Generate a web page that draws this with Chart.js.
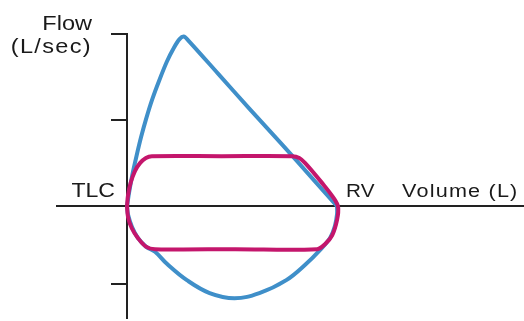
<!DOCTYPE html>
<html>
<head>
<meta charset="utf-8">
<script src="https://cdn.jsdelivr.net/npm/chart.js@4/dist/chart.umd.min.js"></script>
<style>
  html, body { margin: 0; padding: 0; background: #fff; }
  #wrap { width: 524px; height: 321px; }
</style>
</head>
<body>
<div id="wrap"><canvas id="loopChart"></canvas></div>
<script>
// flow-volume loops, volume in L (TLC = 0, RV = 6), flow in L/sec
const rvVolume = 6;

// normal loop, expiratory limb (upper)
const normalExpVolume = [0, 0.06, 0.15, 0.27, 0.40, 0.55, 0.72, 0.92, 1.14, 1.34, 1.50, 1.62, 1.74, 2.6, 3.5, 4.4, 5.3, 6.0];
const normalExpFlow = [0, 0.16, 0.36, 0.58, 0.80, 1.02, 1.24, 1.46, 1.68, 1.84, 1.94, 1.97, 1.93, 1.54, 1.13, 0.73, 0.32, 0];

// normal loop, inspiratory limb (lower)
const normalInspVolume = [6.0, 6.0, 5.94, 5.80, 5.49, 5.12, 4.55, 3.78, 3.07, 2.36, 1.71, 1.14, 0.80, 0.54, 0.31, 0.14, 0.03, 0];
const normalInspFlow = [0, -0.09, -0.23, -0.37, -0.52, -0.67, -0.86, -1.01, -1.07, -1.01, -0.86, -0.67, -0.53, -0.47, -0.37, -0.24, -0.10, 0];

// fixed upper airway obstruction loop (flattened both limbs)
const fixedVolume = [0, 0.03, 0.11, 0.23, 0.37, 0.54, 0.71, 2.7, 4.72, 4.92, 5.09, 5.57, 5.91, 6.03,
  6.0, 5.86, 5.66, 5.43, 3.1, 0.80, 0.54, 0.31, 0.14, 0.03, 0];
const fixedFlow = [0, 0.13, 0.28, 0.41, 0.50, 0.56, 0.58, 0.58, 0.58, 0.56, 0.50, 0.27, 0.09, -0.01,
  -0.16, -0.34, -0.44, -0.50, -0.50, -0.50, -0.47, -0.37, -0.26, -0.13, 0];

// unlabeled tick marks on the flow axis
const flowTicks = [2, 1, -0.9];

const toPoints = (xs, ys) => xs.map((v, i) => ({ x: v, y: ys[i] }));

function stretchText(ctx, txt, x, y, align, size, sx, spacing) {
  ctx.save();
  ctx.font = size + 'px "Liberation Sans", Arial, sans-serif';
  ctx.letterSpacing = (spacing || 0) + 'px';
  ctx.fillStyle = '#1a1a1a';
  ctx.textAlign = align;
  ctx.textBaseline = 'alphabetic';
  ctx.translate(x, y);
  ctx.scale(sx, 1);
  ctx.fillText(txt, 0, 0);
  ctx.restore();
}

const labelPlugin = {
  id: 'loopLabels',
  afterDraw(chart) {
    const ctx = chart.ctx;
    const xs = chart.scales.x, ys = chart.scales.y;
    const x0 = xs.getPixelForValue(0);
    const xRV = xs.getPixelForValue(rvVolume);
    const y0 = ys.getPixelForValue(0);
    stretchText(ctx, 'Flow', 92, 30, 'right', 21, 1.12, 0);
    stretchText(ctx, '(L/sec)', 92, 53, 'right', 21, 1.12, 1.2);
    stretchText(ctx, 'TLC', x0 - 12, y0 - 9, 'right', 21, 1.1, 0);
    stretchText(ctx, 'RV', xRV + 9, y0 - 9, 'left', 18, 1.15, 0);
    stretchText(ctx, 'Volume (L)', xRV + 65, y0 - 9, 'left', 18, 1.2, 1);
  }
};

const lineStyle = { showLine: true, pointRadius: 0, borderJoinStyle: 'round', borderCapStyle: 'round' };

new Chart(document.getElementById('loopChart'), {
  type: 'scatter',
  data: {
    datasets: [
      Object.assign({
        label: 'Fixed obstruction',
        data: toPoints(fixedVolume, fixedFlow),
        borderColor: '#c4166c',
        borderWidth: 4,
        tension: 0.35
      }, lineStyle),
      Object.assign({
        label: 'Normal expiration',
        data: toPoints(normalExpVolume, normalExpFlow),
        borderColor: '#3f8fc9',
        borderWidth: 4,
        tension: 0.3
      }, lineStyle),
      Object.assign({
        label: 'Normal inspiration',
        data: toPoints(normalInspVolume, normalInspFlow),
        borderColor: '#3f8fc9',
        borderWidth: 4,
        tension: 0.4
      }, lineStyle)
    ]
  },
  options: {
    responsive: true,
    maintainAspectRatio: false,
    animation: false,
    layout: { padding: { left: 57, right: 0, top: 34, bottom: 3 } },
    plugins: {
      legend: { display: false },
      tooltip: { enabled: false }
    },
    scales: {
      x: {
        type: 'linear',
        min: -2,
        max: 11.34,
        position: { y: 0 },
        grid: { display: false },
        ticks: { display: false },
        border: { display: true, color: '#222', width: 2 }
      },
      y: {
        type: 'linear',
        min: -1.3,
        max: 2,
        position: { x: 0 },
        afterBuildTicks: scale => { scale.ticks = flowTicks.map(v => ({ value: v })); },
        grid: { drawOnChartArea: false, drawTicks: true, tickLength: 15, color: '#222', lineWidth: 2 },
        ticks: { display: false },
        border: { display: true, color: '#222', width: 2 }
      }
    }
  },
  plugins: [labelPlugin]
});
</script>
</body>
</html>
